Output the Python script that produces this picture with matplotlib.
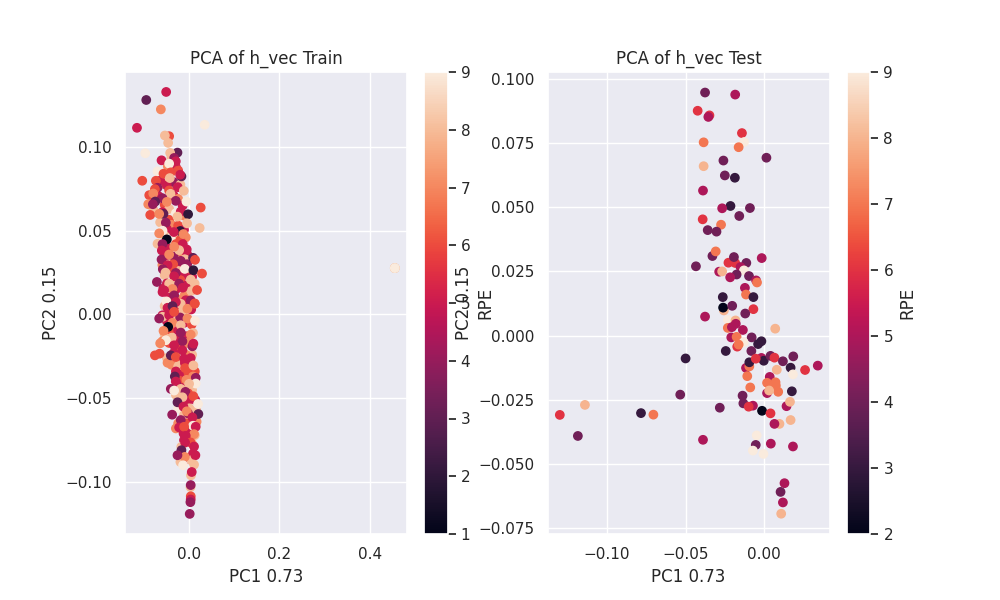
import matplotlib
matplotlib.use("Agg")
import matplotlib.pyplot as plt
from matplotlib.ticker import MultipleLocator
import seaborn as sns

# values, in drawing order
# points mostly hidden in the dense band of the train panel, drawn first
under_pc1 = [-0.040, -0.030, -0.048, -0.025,
             -0.060, -0.035, -0.050, -0.020, -0.065, -0.045,
             -0.075, -0.055, -0.035, -0.025, -0.015, -0.068, -0.045,
             -0.080, -0.060, -0.045, -0.030, -0.012, -0.040,
             -0.065, -0.050, -0.025, -0.012, -0.030, -0.055, -0.008, -0.020, -0.042,
             -0.058, -0.045, -0.030, -0.018, -0.005, -0.050, -0.035, -0.010,
             -0.060, -0.045, -0.022, -0.005, 0.000, -0.040, -0.025, -0.055, -0.012,
             -0.050, -0.035, -0.020, -0.005, 0.006, -0.058, -0.030, -0.010, 0.004,
             -0.045, -0.025, -0.008, -0.055, -0.030, -0.015, 0.004,
             -0.060, -0.050, -0.035, -0.012, 0.005, -0.055, -0.043, -0.025, -0.008, 0.008,
             -0.060, -0.045, -0.030, -0.020, -0.005, 0.006, -0.035, -0.008, -0.050, -0.020,
             -0.040, -0.025, -0.010, 0.005, -0.030, -0.018, -0.002, 0.012,
             -0.022, -0.008, 0.008, -0.028, -0.015, 0.006, -0.003, -0.030,
             -0.020, -0.002, 0.013, -0.025, 0.000, 0.015, -0.012,
             -0.003, 0.012, -0.025, -0.007, 0.016, -0.030, 0.002, -0.013, 0.012,
             -0.003, -0.012, 0.006, -0.018, 0.008, -0.012, 0.000, -0.020, 0.004, 0.0035, 0.0025, 0.0030]
under_pc2 = [0.0935, 0.0880, 0.0885, 0.0860,
             0.0780, 0.0790, 0.0770, 0.0775, 0.0800, 0.0740,
             0.0690, 0.0655, 0.0710, 0.0690, 0.0650, 0.0705, 0.0630,
             0.0625, 0.0610, 0.0565, 0.0605, 0.0590, 0.0535,
             0.0550, 0.0510, 0.0530, 0.0505, 0.0470, 0.0470, 0.0460, 0.0445, 0.0455,
             0.0395, 0.0395, 0.0420, 0.0370, 0.0360, 0.0350, 0.0345, 0.0330,
             0.0295, 0.0300, 0.0295, 0.0300, 0.0250, 0.0260, 0.0260, 0.0235, 0.0235,
             0.0185, 0.0190, 0.0205, 0.0175, 0.0225, 0.0155, 0.0150, 0.0120, 0.0140,
             0.0100, 0.0090, 0.0085, 0.0050, 0.0030, 0.0020, 0.0030,
             -0.0005, -0.0040, -0.0020, -0.0050, -0.0060, -0.0120, -0.0090, -0.0095, -0.0130, -0.0110,
             -0.0160, -0.0170, -0.0150, -0.0200, -0.0170, -0.0240, -0.0230, -0.0240, -0.0260, -0.0280,
             -0.0300, -0.0310, -0.0290, -0.0320, -0.0340, -0.0360, -0.0350, -0.0340,
             -0.0395, -0.0430, -0.0370, -0.0420, -0.0465, -0.0450, -0.0470, -0.0480,
             -0.0520, -0.0510, -0.0510, -0.0560, -0.0560, -0.0570, -0.0600,
             -0.0590, -0.0625, -0.0650, -0.0650, -0.0640, -0.0680, -0.0680, -0.0710, -0.0720,
             -0.0740, -0.0750, -0.0770, -0.0790, -0.0830, -0.0870, -0.0860, -0.0880, -0.0870, -0.0960, -0.1030, -0.1085]
under_rpe = [8, 5, 7, 6,
             7, 4, 5, 8, 5, 6,
             8, 6, 5, 7, 5, 5, 8,
             8, 5, 6, 9, 7, 7,
             8, 5, 6, 5, 8, 8, 7, 6, 9,
             6, 5, 6, 7, 5, 5, 4, 8,
             7, 8, 5, 4, 7, 6, 8, 8, 5,
             5, 8, 6, 5, 5, 5, 5, 7, 8,
             5, 7, 5, 8, 5, 8, 5,
             5, 5, 8, 5, 6, 8, 6, 5, 5, 8,
             7, 6, 5, 6, 7, 8, 5, 7, 8, 8,
             7, 8, 5, 5, 5, 5, 6, 6,
             6, 5, 7, 4, 7, 8, 6, 8,
             7, 5, 5, 9, 8, 8, 8,
             4, 5, 7, 6, 7, 7, 5, 5, 8,
             6, 5, 8, 8, 5, 5, 5, 8, 8, 8, 8, 6]

train_pc1 = [-0.0516, -0.0958, -0.0634, -0.1164, 0.0339, -0.0450, -0.0545, -0.0472, -0.0980, -0.0265,
             -0.0427, -0.0619, -0.0339, -0.0302, -0.0450, -0.0708, -0.0177, -0.0206, -0.0575, -0.0413,
             -0.0435, -0.1047, -0.0744, -0.0258, -0.0708, -0.0766, -0.0125, -0.0892, -0.0803, -0.0420,
             -0.0597, -0.0302, -0.0066, -0.0501, -0.0914, -0.0759, -0.0811, 0.0251, -0.0192, -0.0029,
             -0.0870, -0.0575, -0.0671, -0.0265, -0.0523, -0.0052, 0.0228, -0.0206, -0.0346, -0.0597,
             -0.0671, -0.0133, -0.0501, -0.0708, -0.0597, -0.0147, -0.0059, -0.0612, -0.0228, -0.0339,
             0.0081, 0.0125, -0.0619, -0.0450, -0.0192, -0.0361, -0.0486, -0.0590, -0.0103, 0.0088,
             0.0280, -0.0531, -0.0302, -0.0339, -0.0722, 0.0029, 0.0118, -0.0450, -0.0228, -0.0147,
             -0.0376, 0.0170, -0.0597, -0.0560, -0.0339, -0.0509, 0.0029, 0.0118, -0.0192, -0.0302,
             -0.0398, -0.0044, -0.0486, -0.0376, 0.0118, -0.0597, -0.0671, -0.0206, -0.0450, -0.0339,
             -0.0044, 0.0125, -0.0376, -0.0192, -0.0472, -0.0575, 0.0029, -0.0192, -0.0391, -0.0523,
             -0.0649, -0.0155, 0.0066, -0.0339, -0.0155, 0.0088, -0.0766, -0.0663, -0.0486, -0.0413,
             -0.0302, -0.0118, 0.0029, -0.0096, 0.0088, -0.0324, 0.0140, -0.0302, -0.0066, 0.0140,
             -0.0413, -0.0192, -0.0007, -0.0339, -0.0088, 0.0088, -0.0155, 0.0192, -0.0265, -0.0133,
             -0.0059, -0.0383, 0.0199, 0.0066, -0.0192, 0.0081, -0.0228, -0.0118, 0.0140, 0.0103,
             -0.0081, 0.0029, -0.0096, 0.0103, -0.0177, -0.0103, -0.0265, 0.0133, -0.0140, 0.0103,
             0.0052, 0.0029, 0.0029, 0.0022, 0.0007, 0.4560, 0.4560, 0.4560]
train_pc2 = [0.1328, 0.1280, 0.1224, 0.1114, 0.1132, 0.1064, 0.1068, 0.1024, 0.0962, 0.0966,
             0.0964, 0.0920, 0.0934, 0.0914, 0.0900, 0.0854, 0.0824, 0.0834, 0.0840, 0.0848,
             0.0814, 0.0798, 0.0798, 0.0760, 0.0756, 0.0748, 0.0738, 0.0712, 0.0722, 0.0720,
             0.0694, 0.0678, 0.0674, 0.0672, 0.0658, 0.0674, 0.0658, 0.0638, 0.0614, 0.0598,
             0.0594, 0.0600, 0.0600, 0.0584, 0.0548, 0.0544, 0.0516, 0.0498, 0.0492, 0.0500,
             0.0484, 0.0480, 0.0448, 0.0422, 0.0420, 0.0420, 0.0388, 0.0382, 0.0384, 0.0404,
             0.0338, 0.0326, 0.0328, 0.0358, 0.0320, 0.0300, 0.0294, 0.0270, 0.0272, 0.0264,
             0.0244, 0.0250, 0.0248, 0.0228, 0.0194, 0.0208, 0.0184, 0.0184, 0.0184, 0.0160,
             0.0152, 0.0146, 0.0134, 0.0144, 0.0114, 0.0078, 0.0084, 0.0064, 0.0064, 0.0074,
             0.0044, 0.0034, 0.0040, 0.0050, 0.0066, -0.0014, -0.0024, -0.0018, -0.0004, 0.0016,
             -0.0024, -0.0038, -0.0050, -0.0064, -0.0074, -0.0098, -0.0120, -0.0108, -0.0138, -0.0154,
             -0.0172, -0.0160, -0.0190, -0.0184, -0.0214, -0.0174, -0.0244, -0.0234, -0.0288, -0.0244,
             -0.0254, -0.0264, -0.0260, -0.0320, -0.0304, -0.0370, -0.0378, -0.0400, -0.0390, -0.0412,
             -0.0444, -0.0444, -0.0414, -0.0454, -0.0462, -0.0488, -0.0494, -0.0534, -0.0524, -0.0550,
             -0.0578, -0.0598, -0.0594, -0.0614, -0.0630, -0.0664, -0.0674, -0.0670, -0.0670, -0.0714,
             -0.0724, -0.0764, -0.0764, -0.0788, -0.0810, -0.0850, -0.0840, -0.0840, -0.0900, -0.0896,
             -0.0940, -0.1018, -0.1104, -0.1120, -0.1190, 0.0277, 0.0277, 0.0277]
train_rpe = [5, 3, 7, 5, 9, 6, 8, 8, 9, 3,
             8, 5, 4, 5, 9, 9, 3, 5, 6, 6,
             8, 6, 6, 5, 4, 6, 8, 6, 7, 8,
             4, 4, 9, 7, 7, 3, 4, 6, 5, 2,
             6, 3, 7, 8, 4, 8, 8, 2, 5, 9,
             7, 7, 1, 8, 4, 5, 5, 5, 8, 7,
             3, 6, 4, 7, 4, 6, 5, 4, 9, 2,
             6, 8, 4, 5, 4, 8, 8, 8, 4, 5,
             7, 6, 5, 5, 4, 9, 4, 6, 8, 5,
             3, 7, 5, 3, 6, 8, 4, 4, 5, 6,
             7, 9, 7, 8, 1, 7, 7, 4, 8, 9,
             7, 4, 4, 5, 5, 5, 6, 6, 7, 3,
             6, 5, 5, 6, 8, 3, 4, 5, 7, 9,
             4, 8, 8, 9, 4, 6, 8, 9, 3, 5,
             7, 4, 3, 5, 4, 9, 5, 6, 5, 7,
             5, 6, 5, 5, 3, 7, 4, 5, 9, 8,
             5, 4, 5, 4, 4, 8, 8, 9]

test_pc1 = [-0.0376, -0.0184, -0.0423, -0.0348, -0.0355, -0.0141, -0.0128, -0.0385, -0.0162, -0.0259,
            0.0015, -0.0385, -0.0250, -0.0186, -0.0389, -0.0214, -0.0267, -0.0090, -0.0158, -0.0391,
            -0.0274, -0.0359, -0.0303, -0.0329, -0.0308, -0.0434, -0.0227, -0.0184, -0.0192, -0.0113,
            -0.0150, -0.0015, -0.0286, -0.0267, -0.0128, -0.0175, -0.0216, -0.0096, -0.0051, -0.0045,
            -0.0122, -0.0115, -0.0263, -0.0068, -0.0256, -0.0261, -0.0203, -0.0068, -0.0120, -0.0376,
            -0.0231, -0.0182, 0.0071, -0.0231, -0.0180, -0.0205, -0.0135, -0.0209, -0.0175, -0.0079,
            -0.0017, -0.0038, -0.0130, -0.0171, -0.0162, -0.0244, -0.0081, -0.0500, -0.0115, -0.0094,
            -0.0094, -0.0017, -0.0002, -0.0053, 0.0041, 0.0066, 0.0120, 0.0186, 0.0169, 0.0081,
            0.0184, 0.0261, 0.0342, -0.0107, 0.0036, 0.0019, 0.0073, 0.0075, 0.0090, -0.0088,
            0.0019, 0.0032, 0.0177, -0.0534, -0.0137, -0.0132, -0.0071, -0.0098, -0.0282, 0.0143,
            0.0165, -0.0013, 0.0041, 0.0098, 0.0066, 0.0169, -0.0784, -0.0705, -0.0389, -0.0047,
            -0.0053, 0.0043, -0.0071, -0.0004, 0.0184, 0.0130, 0.0105, 0.0120, 0.0109, -0.1301,
            -0.1141, -0.1186]
test_pc2 = [0.0947, 0.0939, 0.0876, 0.0858, 0.0852, 0.0789, 0.0754, 0.0753, 0.0734, 0.0682,
            0.0693, 0.0660, 0.0624, 0.0615, 0.0565, 0.0505, 0.0496, 0.0497, 0.0466, 0.0453,
            0.0432, 0.0411, 0.0405, 0.0310, 0.0328, 0.0270, 0.0284, 0.0283, 0.0306, 0.0283,
            0.0267, 0.0302, 0.0249, 0.0250, 0.0254, 0.0238, 0.0227, 0.0232, 0.0215, 0.0207,
            0.0186, 0.0160, 0.0150, 0.0150, 0.0098, 0.0109, 0.0116, 0.0103, 0.0086, 0.0074,
            0.0061, 0.0059, 0.0027, 0.0030, 0.0046, 0.0033, 0.0022, -0.0007, -0.0005, -0.0007,
            -0.0022, -0.0033, -0.0026, -0.0043, -0.0035, -0.0060, -0.0060, -0.0089, -0.0126, -0.0120,
            -0.0104, -0.0087, -0.0098, -0.0090, -0.0079, -0.0086, -0.0100, -0.0081, -0.0125, -0.0133,
            -0.0151, -0.0134, -0.0117, -0.0158, -0.0161, -0.0184, -0.0182, -0.0195, -0.0219, -0.0202,
            -0.0224, -0.0214, -0.0217, -0.0230, -0.0234, -0.0264, -0.0273, -0.0277, -0.0281, -0.0275,
            -0.0258, -0.0293, -0.0303, -0.0344, -0.0344, -0.0329, -0.0302, -0.0308, -0.0406, -0.0389,
            -0.0426, -0.0421, -0.0448, -0.0461, -0.0432, -0.0575, -0.0609, -0.0650, -0.0694, -0.0309,
            -0.0270, -0.0391]
test_rpe = [4, 5, 6, 6, 5, 6, 9, 7, 7, 4,
            4, 8, 4, 3, 5, 3, 5, 4, 4, 6,
            7, 4, 4, 4, 7, 4, 6, 6, 4, 4,
            5, 5, 5, 8, 9, 4, 5, 4, 5, 7,
            5, 7, 3, 3, 8, 2, 4, 6, 4, 5,
            9, 8, 8, 7, 5, 5, 5, 5, 7, 4,
            3, 3, 9, 6, 7, 3, 4, 3, 5, 7,
            3, 5, 3, 6, 4, 6, 4, 4, 3, 8,
            9, 6, 5, 7, 5, 7, 7, 7, 7, 7,
            5, 8, 3, 4, 4, 4, 5, 6, 4, 5,
            8, 2, 6, 8, 5, 8, 3, 7, 5, 9,
            4, 5, 9, 9, 5, 5, 4, 5, 8, 6,
            8, 4]

sns.set_theme()

fig, (ax1, ax2) = plt.subplots(1, 2, figsize=(10, 6))

sc1 = ax1.scatter(under_pc1 + train_pc1, under_pc2 + train_pc2, c=under_rpe + train_rpe, cmap="rocket")
ax1.set_title("PCA of h_vec Train")
ax1.set_xlabel("PC1 0.73")
ax1.set_ylabel("PC2 0.15")
ax1.set_xlim(-0.143, 0.4827)
ax1.set_ylim(-0.131, 0.1447)
fig.colorbar(sc1, ax=ax1, label="RPE")

sc2 = ax2.scatter(test_pc1, test_pc2, c=test_rpe, cmap="rocket")
ax2.set_title("PCA of h_vec Test")
ax2.set_xlabel("PC1 0.73")
ax2.set_ylabel("PC2 0.15")
ax2.set_xlim(-0.1378, 0.0417)
ax2.set_ylim(-0.0773, 0.1027)
ax2.yaxis.set_major_locator(MultipleLocator(0.025))
fig.colorbar(sc2, ax=ax2, label="RPE")

plt.savefig("out.png", dpi=100)
